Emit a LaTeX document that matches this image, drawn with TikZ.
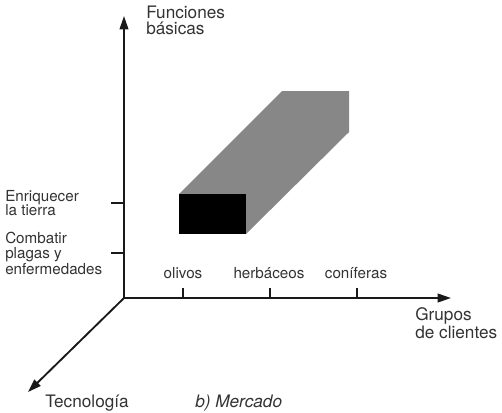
\documentclass[tikz,border=0pt]{standalone}
\usepackage{fontspec}
\setmainfont{TeX Gyre Heros}
\usetikzlibrary{arrows.meta}
\begin{document}
\begin{tikzpicture}[x=0.75pt,y=-0.75pt,
  axis/.style={line width=1.4pt,draw=black!90,-{Triangle[length=10pt,width=6.5pt]}},
  tick/.style={line width=1.4pt,draw=black!90},
  biglabel/.style={inner sep=0pt,text=black!80,font=\fontsize{12.9pt}{12pt}\selectfont,align=left},
  smalllabel/.style={inner sep=0pt,text=black!80,font=\fontsize{11.4pt}{10.8pt}\selectfont,align=left}]
\path[use as bounding box] (0,0) rectangle (502,412);
% axes
\coordinate (O) at (124,298);
\coordinate (Ytop) at (124,16);
\coordinate (Xend) at (451,298);
\coordinate (Zend) at (28,392);
\draw[axis] (O) -- (Ytop);
\draw[axis] (O) -- (Xend);
\draw[axis] (O) -- (Zend);
% y ticks
\coordinate (ya) at (124,203); \coordinate (ya2) at (111,203);
\coordinate (yb) at (124,253); \coordinate (yb2) at (111,253);
\draw[tick] (ya) -- (ya2);
\draw[tick] (yb) -- (yb2);
% x ticks
\coordinate (xa) at (183,298); \coordinate (xa2) at (183,288);
\coordinate (xb) at (270,298); \coordinate (xb2) at (270,288);
\coordinate (xc) at (357,298); \coordinate (xc2) at (357,288);
\draw[tick] (xa) -- (xa2);
\draw[tick] (xb) -- (xb2);
\draw[tick] (xc) -- (xc2);
% box
\fill[fill=black!47] (179,194) -- (282,91) -- (349,91) -- (349,132) -- (246,234) -- (246,194) -- cycle;
\fill[black] (179,194) rectangle (246,234);
% labels (base anchor = baseline of last line)
\node[biglabel,anchor=base west] (fb) at (146,34.5) {Funciones\\básicas};
\node[biglabel,anchor=base west] (gc) at (415,338) {Grupos\\de clientes};
\node[biglabel,anchor=base west] (tec) at (45,407) {Tecnología};
\node[biglabel,anchor=base west] (mer) at (195,407) {\itshape b) Mercado};
\node[smalllabel,anchor=base west] (enr) at (5,215.7) {Enriquecer\\la tierra};
\node[smalllabel,anchor=base west] (com) at (5,274) {Combatir\\plagas y\\enfermedades};
\node[smalllabel,anchor=base] (oli) at (183,278) {olivos};
\node[smalllabel,anchor=base] (her) at (269,278) {herbáceos};
\node[smalllabel,anchor=base] (con) at (356,278) {coníferas};
\end{tikzpicture}
\end{document}
